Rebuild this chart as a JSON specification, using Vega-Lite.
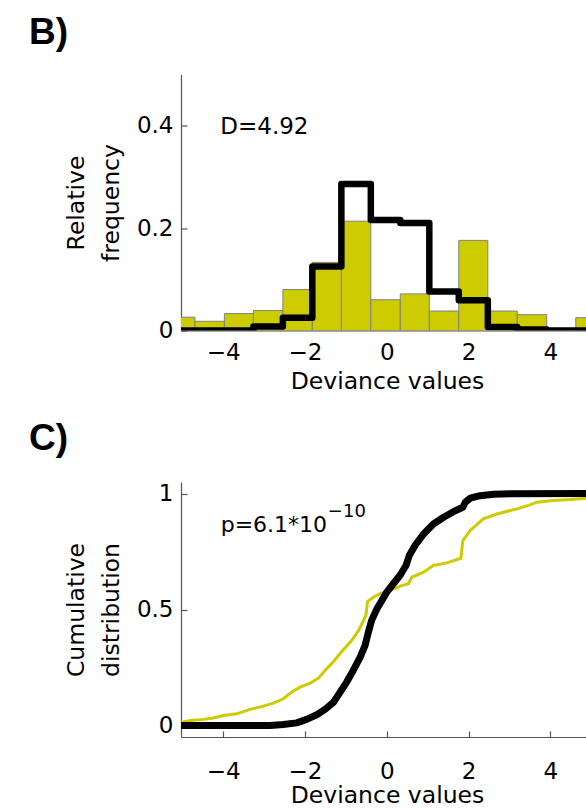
{
  "$schema": "https://vega.github.io/schema/vega-lite/v6.json",
  "background": "white",
  "padding": {"left": 29, "top": 13.5, "right": 0, "bottom": 0},
  "spacing": 25.5,
  "config": {
    "view": {"stroke": null},
    "axis": {
      "domainColor": "#555555", "domainWidth": 1.2,
      "tickColor": "#555555", "tickWidth": 1.2, "tickSize": -6,
      "labelFont": "DejaVu Sans", "labelFontSize": 23, "labelColor": "#000000",
      "titleFont": "DejaVu Sans", "titleFontSize": 23.5, "titleFontWeight": "normal", "titleColor": "#000000",
      "grid": false, "labelOverlap": false, "labelFlush": false
    }
  },
  "datasets": {
    "histogram": [
      {"x": -5.40, "x2": -4.69, "y": 0.026},
      {"x": -4.69, "x2": -3.97, "y": 0.018},
      {"x": -3.97, "x2": -3.26, "y": 0.033},
      {"x": -3.26, "x2": -2.54, "y": 0.039},
      {"x": -2.54, "x2": -1.82, "y": 0.080},
      {"x": -1.82, "x2": -1.11, "y": 0.133},
      {"x": -1.11, "x2": -0.39, "y": 0.2135},
      {"x": -0.39, "x2": 0.33, "y": 0.060},
      {"x": 0.33, "x2": 1.04, "y": 0.0715},
      {"x": 1.04, "x2": 1.76, "y": 0.038},
      {"x": 1.76, "x2": 2.47, "y": 0.176},
      {"x": 2.47, "x2": 3.19, "y": 0.038},
      {"x": 3.19, "x2": 3.91, "y": 0.031},
      {"x": 4.62, "x2": 5.34, "y": 0.025}
    ],
    "steps": [
      {"x": -5.40, "y": 0},
      {"x": -4.69, "y": 0},
      {"x": -3.97, "y": 0},
      {"x": -3.26, "y": 0.008},
      {"x": -2.54, "y": 0.025},
      {"x": -1.82, "y": 0.125},
      {"x": -1.11, "y": 0.286},
      {"x": -0.39, "y": 0.216},
      {"x": 0.33, "y": 0.210},
      {"x": 1.04, "y": 0.076},
      {"x": 1.76, "y": 0.059},
      {"x": 2.47, "y": 0.007},
      {"x": 3.19, "y": 0.002},
      {"x": 3.91, "y": 0},
      {"x": 4.62, "y": 0},
      {"x": 5.34, "y": 0}
    ],
    "cdfYellow": [
      {"x": -5.10, "y": 0.013},
      {"x": -5.01, "y": 0.014},
      {"x": -4.81, "y": 0.021},
      {"x": -4.48, "y": 0.026},
      {"x": -4.24, "y": 0.032},
      {"x": -3.99, "y": 0.043},
      {"x": -3.67, "y": 0.050},
      {"x": -3.34, "y": 0.069},
      {"x": -3.02, "y": 0.083},
      {"x": -2.77, "y": 0.096},
      {"x": -2.53, "y": 0.115},
      {"x": -2.32, "y": 0.144},
      {"x": -2.12, "y": 0.165},
      {"x": -1.87, "y": 0.182},
      {"x": -1.67, "y": 0.204},
      {"x": -1.51, "y": 0.237},
      {"x": -1.30, "y": 0.276},
      {"x": -1.10, "y": 0.319},
      {"x": -0.86, "y": 0.366},
      {"x": -0.69, "y": 0.409},
      {"x": -0.57, "y": 0.453},
      {"x": -0.51, "y": 0.474},
      {"x": -0.47, "y": 0.534},
      {"x": -0.33, "y": 0.553},
      {"x": -0.16, "y": 0.568},
      {"x": 0.08, "y": 0.582},
      {"x": 0.33, "y": 0.601},
      {"x": 0.53, "y": 0.611},
      {"x": 0.61, "y": 0.639},
      {"x": 0.90, "y": 0.661},
      {"x": 1.14, "y": 0.690},
      {"x": 1.47, "y": 0.701},
      {"x": 1.81, "y": 0.721},
      {"x": 1.86, "y": 0.797},
      {"x": 2.04, "y": 0.841},
      {"x": 2.36, "y": 0.891},
      {"x": 2.69, "y": 0.912},
      {"x": 3.18, "y": 0.934},
      {"x": 3.50, "y": 0.951},
      {"x": 3.67, "y": 0.963},
      {"x": 4.07, "y": 0.970},
      {"x": 4.48, "y": 0.974},
      {"x": 4.87, "y": 0.980},
      {"x": 5.20, "y": 0.983}
    ],
    "cdfBlack": [
      {"x": -5.10, "y": 0.0},
      {"x": -2.85, "y": 0.0},
      {"x": -2.53, "y": 0.004},
      {"x": -2.20, "y": 0.011},
      {"x": -1.96, "y": 0.026},
      {"x": -1.71, "y": 0.046},
      {"x": -1.51, "y": 0.069},
      {"x": -1.30, "y": 0.100},
      {"x": -1.14, "y": 0.144},
      {"x": -0.98, "y": 0.187},
      {"x": -0.82, "y": 0.237},
      {"x": -0.65, "y": 0.295},
      {"x": -0.53, "y": 0.345},
      {"x": -0.45, "y": 0.402},
      {"x": -0.37, "y": 0.453},
      {"x": -0.24, "y": 0.503},
      {"x": -0.12, "y": 0.539},
      {"x": 0.0, "y": 0.575},
      {"x": 0.16, "y": 0.611},
      {"x": 0.33, "y": 0.649},
      {"x": 0.47, "y": 0.690},
      {"x": 0.55, "y": 0.733},
      {"x": 0.69, "y": 0.776},
      {"x": 0.90, "y": 0.826},
      {"x": 1.14, "y": 0.869},
      {"x": 1.39, "y": 0.898},
      {"x": 1.63, "y": 0.922},
      {"x": 1.86, "y": 0.941},
      {"x": 1.92, "y": 0.963},
      {"x": 2.04, "y": 0.980},
      {"x": 2.28, "y": 0.991},
      {"x": 2.61, "y": 0.997},
      {"x": 3.02, "y": 0.999},
      {"x": 4.87, "y": 1.0},
      {"x": 5.20, "y": 1.0}
    ]
  },
  "vconcat": [
    {
      "width": 405,
      "height": 256,
      "title": {"text": "B)", "anchor": "start", "frame": "group", "font": "Liberation Sans", "fontSize": 37, "fontWeight": "bold", "color": "#000000", "offset": 23, "dx": -152},
      "encoding": {
        "x": {"field": "x", "type": "quantitative",
          "scale": {"domain": [-5.03, 4.87], "nice": false, "zero": false},
          "axis": {"values": [-4, -2, 0, 2, 4], "title": "Deviance values", "ticks": false, "labelPadding": 11, "titlePadding": 5, "titleX": 206}},
        "y": {"field": "y", "type": "quantitative",
          "scale": {"domain": [0, 0.5], "nice": false, "zero": false},
          "axis": {"values": [0, 0.2, 0.4], "format": "~g", "title": ["Relative", "frequency"], "titleLineHeight": 35, "labelPadding": 14, "titlePadding": 12.5}}
      },
      "layer": [
        {"data": {"name": "histogram"},
         "mark": {"type": "bar", "fill": "#cccc00", "stroke": "#808080", "strokeWidth": 1, "clip": true},
         "encoding": {"x2": {"field": "x2"}, "y2": {"datum": 0}}},
        {"data": {"name": "steps"},
         "mark": {"type": "line", "interpolate": "step-after", "color": "#000000", "strokeWidth": 6.5, "strokeJoin": "round", "clip": true},
         "encoding": {}},
        {"data": {"values": [{"x": -4.07, "y": 0.384, "label": "D=4.92"}]},
         "mark": {"type": "text", "align": "left", "baseline": "alphabetic", "font": "DejaVu Sans", "fontSize": 23, "color": "#000000"},
         "encoding": {"text": {"field": "label"}}}
      ]
    },
    {
      "width": 405,
      "height": 255,
      "title": {"text": "C)", "anchor": "start", "frame": "group", "font": "Liberation Sans", "fontSize": 37, "fontWeight": "bold", "color": "#000000", "offset": 24.5, "dx": -152},
      "encoding": {
        "x": {"field": "x", "type": "quantitative",
          "scale": {"domain": [-5.03, 4.87], "nice": false, "zero": false},
          "axis": {"values": [-4, -2, 0, 2, 4], "title": "Deviance values", "labelPadding": 29.5, "titlePadding": 0, "titleX": 206}},
        "y": {"field": "y", "type": "quantitative",
          "scale": {"domain": [-0.05, 1.05], "nice": false, "zero": false},
          "axis": {"values": [0, 0.5, 1], "format": "~g", "title": ["Cumulative", "distribution"], "titleLineHeight": 35, "labelPadding": 14, "titlePadding": 12.5}}
      },
      "layer": [
        {"data": {"name": "cdfYellow"},
         "mark": {"type": "line", "color": "#cccc00", "strokeWidth": 3, "clip": true},
         "encoding": {}},
        {"data": {"name": "cdfBlack"},
         "mark": {"type": "line", "color": "#000000", "strokeWidth": 7, "strokeJoin": "round", "strokeCap": "round", "clip": true},
         "encoding": {}},
        {"data": {"values": [{"x": -4.06, "y": 0.834, "label": "p=6.1*10"}]},
         "mark": {"type": "text", "align": "left", "baseline": "alphabetic", "font": "DejaVu Sans", "fontSize": 22, "color": "#000000"},
         "encoding": {"text": {"field": "label"}}},
        {"data": {"values": [{"x": -1.44, "y": 0.90, "label": "−10"}]},
         "mark": {"type": "text", "align": "left", "baseline": "alphabetic", "font": "DejaVu Sans", "fontSize": 18, "color": "#000000"},
         "encoding": {"text": {"field": "label"}}}
      ]
    }
  ]
}
